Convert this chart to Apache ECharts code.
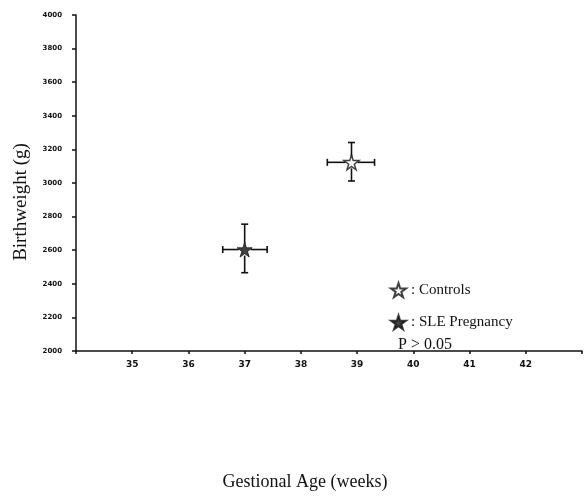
<!DOCTYPE html>
<html>
<head>
<meta charset="utf-8">
<script src="https://cdn.jsdelivr.net/npm/echarts@6/dist/echarts.min.js"></script>
<style>html,body{margin:0;padding:0;background:#fff;}#c{width:585px;height:496px;}</style>
</head>
<body>
<div id="c"></div>
<script>
// Data
const groups = ['Controls', 'SLE Pregnancy'];
const gestAgeMean = [38.9, 37.0];
const gestAgeLow = [38.47, 36.61];
const gestAgeHigh = [39.31, 37.4];
const weightMean = [3123, 2604];
const weightLow = [3012, 2466];
const weightHigh = [3241, 2755];
const xTicks = [35, 36, 37, 38, 39, 40, 41, 42];
const yTicks = [2000, 2200, 2400, 2600, 2800, 3000, 3200, 3400, 3600, 3800, 4000];
const pText = 'P > 0.05';

const STAR = 'path://M50,0 L61,35 L98,35 L68,57 L79,91 L50,70 L21,91 L32,57 L2,35 L39,35 Z';
const serif = '"Liberation Serif", "DejaVu Serif", serif';

const errData = groups.map((g, i) => [gestAgeMean[i], weightMean[i], gestAgeLow[i], gestAgeHigh[i], weightLow[i], weightHigh[i]]);

const chart = echarts.init(document.getElementById('c'), null, {renderer: 'canvas'});
chart.setOption({
  animation: false,
  backgroundColor: '#fff',
  grid: {left: 76, top: 15, bottom: 140, right: -4, containLabel: false},
  xAxis: {
    type: 'value', min: 34, max: 43, interval: 1,
    name: 'Gestional Age (weeks)', nameLocation: 'middle', nameGap: 122,
    nameTextStyle: {fontFamily: serif, fontSize: 18, color: '#111', padding: [0, 48, 0, 0]},
    axisLine: {show: true, onZero: false, lineStyle: {color: '#111', width: 1.5}},
    axisTick: {show: true, length: 3, lineStyle: {color: '#111', width: 1.5}},
    axisLabel: {
      margin: 9, fontFamily: 'DejaVu Sans', fontWeight: 'bold', fontSize: 9, color: '#111',
      formatter: v => xTicks.indexOf(v) >= 0 ? String(v) : ''
    },
    splitLine: {show: false}
  },
  yAxis: {
    type: 'value', min: 2000, max: 4000, interval: 200,
    name: 'Birthweight (g)', nameLocation: 'middle', nameGap: 45,
    nameTextStyle: {fontFamily: serif, fontSize: 19, color: '#111', padding: [0, 38, 0, 0]},
    axisLine: {show: true, onZero: false, lineStyle: {color: '#111', width: 1.5}},
    axisTick: {show: true, length: 4, lineStyle: {color: '#111', width: 1.5}},
    axisLabel: {
      margin: 14, fontFamily: 'DejaVu Sans', fontWeight: 'bold', fontSize: 7, color: '#111',
      formatter: v => yTicks.indexOf(v) >= 0 ? String(v) : ''
    },
    splitLine: {show: false}
  },
  legend: {
    orient: 'vertical', left: 390, top: 282, itemGap: 16, padding: 0,
    itemWidth: 15, itemHeight: 15,
    data: groups,
    formatter: n => ': ' + n,
    textStyle: {fontFamily: serif, fontSize: 15, color: '#111'}
  },
  graphic: [{
    type: 'text', left: 398, top: 337,
    style: {text: pText, font: '16px ' + serif, fill: '#111'}
  }],
  series: [
    {
      type: 'custom', name: 'err', z: 1, silent: true,
      data: errData,
      renderItem: (params, api) => {
        const c = api.coord([api.value(0), api.value(1)]);
        const xl = api.coord([api.value(2), api.value(1)]);
        const xh = api.coord([api.value(3), api.value(1)]);
        const yl = api.coord([api.value(0), api.value(4)]);
        const yh = api.coord([api.value(0), api.value(5)]);
        const cap = 3.5, g = 6;
        const st = {stroke: '#111', lineWidth: 1.6};
        return {
          type: 'group',
          children: [
            {type: 'line', shape: {x1: xl[0], y1: c[1], x2: c[0] - g, y2: c[1]}, style: st},
            {type: 'line', shape: {x1: c[0] + g, y1: c[1], x2: xh[0], y2: c[1]}, style: st},
            {type: 'line', shape: {x1: c[0], y1: yl[1], x2: c[0], y2: c[1] + g}, style: st},
            {type: 'line', shape: {x1: c[0], y1: c[1] - g, x2: c[0], y2: yh[1]}, style: st},
            {type: 'line', shape: {x1: xl[0], y1: c[1] - cap, x2: xl[0], y2: c[1] + cap}, style: st},
            {type: 'line', shape: {x1: xh[0], y1: c[1] - cap, x2: xh[0], y2: c[1] + cap}, style: st},
            {type: 'line', shape: {x1: c[0] - cap, y1: yl[1], x2: c[0] + cap, y2: yl[1]}, style: st},
            {type: 'line', shape: {x1: c[0] - cap, y1: yh[1], x2: c[0] + cap, y2: yh[1]}, style: st}
          ]
        };
      }
    },
    {
      type: 'scatter', name: groups[0], z: 3, symbol: STAR, symbolSize: 15,
      itemStyle: {color: '#fff', borderColor: '#111', borderWidth: 1.5},
      data: [[gestAgeMean[0], weightMean[0]]]
    },
    {
      type: 'scatter', name: groups[1], z: 3, symbol: STAR, symbolSize: 15,
      itemStyle: {color: '#111', borderColor: '#111', borderWidth: 1},
      data: [[gestAgeMean[1], weightMean[1]]]
    }
  ]
});
</script>
</body>
</html>
